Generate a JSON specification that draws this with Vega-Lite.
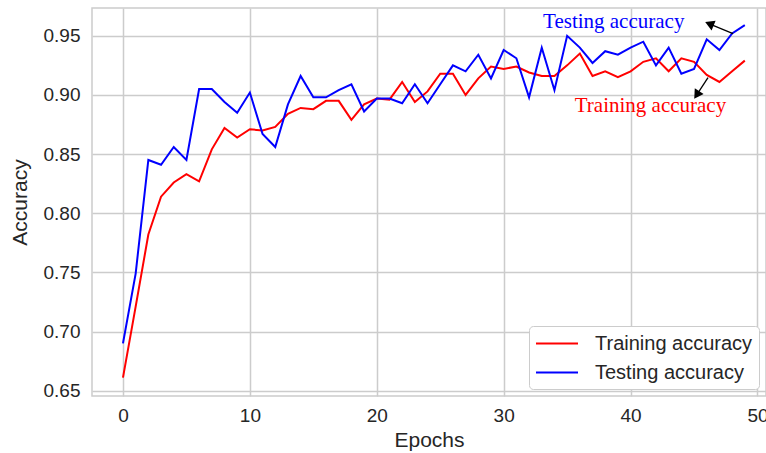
{
  "$schema": "https://vega.github.io/schema/vega-lite/v6.json",
  "width": 674,
  "height": 388,
  "autosize": {"type": "none"},
  "padding": {"left": 92, "top": 8, "right": 0, "bottom": 57},
  "background": "white",
  "config": {
    "view": {"stroke": "#cccccc", "strokeWidth": 1.5},
    "font": "Liberation Sans",
    "axis": {
      "domain": false,
      "ticks": false,
      "grid": true,
      "gridColor": "#cccccc",
      "gridWidth": 1.5,
      "labelFont": "Liberation Sans",
      "labelFontSize": 19,
      "labelColor": "#262626",
      "titleFont": "Liberation Sans",
      "titleFontSize": 21,
      "titleFontWeight": "normal",
      "titleColor": "#262626"
    },
    "legend": {
      "orient": "bottom-right",
      "offset": 7,
      "strokeColor": "#cccccc",
      "fillColor": "white",
      "cornerRadius": 4,
      "padding": 6,
      "labelFont": "Liberation Sans",
      "labelFontSize": 20,
      "labelColor": "#262626",
      "symbolType": "M-1,0H3",
      "symbolSize": 441,
      "symbolStrokeWidth": 2,
      "labelOffset": 37,
      "rowPadding": 7
    }
  },
  "datasets": {
    "acc": [
      {"epoch": 0, "Training accuracy": 0.661, "Testing accuracy": 0.690},
      {"epoch": 1, "Training accuracy": 0.721, "Testing accuracy": 0.749},
      {"epoch": 2, "Training accuracy": 0.782, "Testing accuracy": 0.845},
      {"epoch": 3, "Training accuracy": 0.814, "Testing accuracy": 0.841},
      {"epoch": 4, "Training accuracy": 0.826, "Testing accuracy": 0.856},
      {"epoch": 5, "Training accuracy": 0.833, "Testing accuracy": 0.845},
      {"epoch": 6, "Training accuracy": 0.827, "Testing accuracy": 0.905},
      {"epoch": 7, "Training accuracy": 0.854, "Testing accuracy": 0.905},
      {"epoch": 8, "Training accuracy": 0.872, "Testing accuracy": 0.894},
      {"epoch": 9, "Training accuracy": 0.864, "Testing accuracy": 0.885},
      {"epoch": 10, "Training accuracy": 0.871, "Testing accuracy": 0.902},
      {"epoch": 11, "Training accuracy": 0.870, "Testing accuracy": 0.867},
      {"epoch": 12, "Training accuracy": 0.873, "Testing accuracy": 0.856},
      {"epoch": 13, "Training accuracy": 0.884, "Testing accuracy": 0.892},
      {"epoch": 14, "Training accuracy": 0.889, "Testing accuracy": 0.916},
      {"epoch": 15, "Training accuracy": 0.888, "Testing accuracy": 0.898},
      {"epoch": 16, "Training accuracy": 0.895, "Testing accuracy": 0.898},
      {"epoch": 17, "Training accuracy": 0.895, "Testing accuracy": 0.904},
      {"epoch": 18, "Training accuracy": 0.879, "Testing accuracy": 0.909},
      {"epoch": 19, "Training accuracy": 0.892, "Testing accuracy": 0.886},
      {"epoch": 20, "Training accuracy": 0.897, "Testing accuracy": 0.897},
      {"epoch": 21, "Training accuracy": 0.896, "Testing accuracy": 0.897},
      {"epoch": 22, "Training accuracy": 0.911, "Testing accuracy": 0.893},
      {"epoch": 23, "Training accuracy": 0.894, "Testing accuracy": 0.909},
      {"epoch": 24, "Training accuracy": 0.903, "Testing accuracy": 0.893},
      {"epoch": 25, "Training accuracy": 0.918, "Testing accuracy": 0.909},
      {"epoch": 26, "Training accuracy": 0.918, "Testing accuracy": 0.925},
      {"epoch": 27, "Training accuracy": 0.900, "Testing accuracy": 0.920},
      {"epoch": 28, "Training accuracy": 0.914, "Testing accuracy": 0.934},
      {"epoch": 29, "Training accuracy": 0.924, "Testing accuracy": 0.914},
      {"epoch": 30, "Training accuracy": 0.922, "Testing accuracy": 0.938},
      {"epoch": 31, "Training accuracy": 0.924, "Testing accuracy": 0.931},
      {"epoch": 32, "Training accuracy": 0.919, "Testing accuracy": 0.898},
      {"epoch": 33, "Training accuracy": 0.916, "Testing accuracy": 0.940},
      {"epoch": 34, "Training accuracy": 0.916, "Testing accuracy": 0.904},
      {"epoch": 35, "Training accuracy": 0.925, "Testing accuracy": 0.950},
      {"epoch": 36, "Training accuracy": 0.935, "Testing accuracy": 0.940},
      {"epoch": 37, "Training accuracy": 0.916, "Testing accuracy": 0.927},
      {"epoch": 38, "Training accuracy": 0.920, "Testing accuracy": 0.937},
      {"epoch": 39, "Training accuracy": 0.915, "Testing accuracy": 0.934},
      {"epoch": 40, "Training accuracy": 0.920, "Testing accuracy": 0.940},
      {"epoch": 41, "Training accuracy": 0.928, "Testing accuracy": 0.945},
      {"epoch": 42, "Training accuracy": 0.931, "Testing accuracy": 0.925},
      {"epoch": 43, "Training accuracy": 0.920, "Testing accuracy": 0.940},
      {"epoch": 44, "Training accuracy": 0.931, "Testing accuracy": 0.918},
      {"epoch": 45, "Training accuracy": 0.928, "Testing accuracy": 0.922},
      {"epoch": 46, "Training accuracy": 0.917, "Testing accuracy": 0.947},
      {"epoch": 47, "Training accuracy": 0.911, "Testing accuracy": 0.938},
      {"epoch": 48, "Training accuracy": 0.920, "Testing accuracy": 0.952},
      {"epoch": 49, "Training accuracy": 0.929, "Testing accuracy": 0.959}
    ],
    "labels": [
      {"epoch": 33.1, "acc": 0.9569, "label": "Testing accuracy", "series": "Testing accuracy"},
      {"epoch": 35.6, "acc": 0.8856, "label": "Training accuracy", "series": "Training accuracy"}
    ],
    "arrows": [
      {"epoch": 48.07, "acc": 0.9519, "epoch2": 46.21, "acc2": 0.9601, "which": "test"},
      {"epoch": 46.1, "acc": 0.9147, "epoch2": 45.21, "acc2": 0.9001, "which": "train"}
    ]
  },
  "layer": [
    {
      "data": {"name": "acc"},
      "transform": [
        {"fold": ["Training accuracy", "Testing accuracy"], "as": ["series", "accuracy"]},
        {"filter": "datum.series === 'Training accuracy'"}
      ],
      "mark": {"type": "line", "strokeWidth": 2, "clip": true},
      "encoding": {
        "x": {
          "field": "epoch", "type": "quantitative",
          "scale": {"domain": [-2.44, 50.67], "nice": false, "zero": false},
          "axis": {"title": "Epochs", "values": [0, 10, 20, 30, 40, 50], "labelPadding": 10, "titlePadding": 4}
        },
        "y": {
          "field": "accuracy", "type": "quantitative",
          "scale": {"domain": [0.6455, 0.9735], "nice": false, "zero": false},
          "axis": {"title": "Accuracy", "values": [0.65, 0.7, 0.75, 0.8, 0.85, 0.9, 0.95], "format": ".2f", "labelPadding": 12, "titlePadding": 13}
        },
        "color": {
          "field": "series", "type": "nominal",
          "scale": {"domain": ["Training accuracy", "Testing accuracy"], "range": ["#ff0000", "#0000ff"]},
          "legend": {"title": null}
        }
      }
    },
    {
      "data": {"name": "acc"},
      "transform": [
        {"fold": ["Training accuracy", "Testing accuracy"], "as": ["series", "accuracy"]},
        {"filter": "datum.series === 'Testing accuracy'"}
      ],
      "mark": {"type": "line", "strokeWidth": 2, "clip": true},
      "encoding": {
        "x": {"field": "epoch", "type": "quantitative"},
        "y": {"field": "accuracy", "type": "quantitative"},
        "color": {"field": "series", "type": "nominal"}
      }
    },
    {
      "data": {"name": "labels"},
      "mark": {"type": "text", "font": "Liberation Serif", "fontSize": 21, "align": "left", "baseline": "alphabetic"},
      "encoding": {
        "x": {"field": "epoch", "type": "quantitative"},
        "y": {"field": "acc", "type": "quantitative"},
        "text": {"field": "label"},
        "color": {"field": "series", "type": "nominal", "legend": null}
      }
    },
    {
      "data": {"name": "arrows"},
      "mark": {"type": "rule", "color": "black", "strokeWidth": 1.3},
      "encoding": {
        "x": {"field": "epoch", "type": "quantitative"},
        "y": {"field": "acc", "type": "quantitative"},
        "x2": {"field": "epoch2"},
        "y2": {"field": "acc2"}
      }
    },
    {
      "data": {"name": "arrows"},
      "transform": [{"filter": "datum.which === 'test'"}],
      "mark": {"type": "point", "shape": "triangle-up", "filled": true, "color": "black", "opacity": 1, "size": 110, "angle": 292.5},
      "encoding": {
        "x": {"field": "epoch2", "type": "quantitative"},
        "y": {"field": "acc2", "type": "quantitative"}
      }
    },
    {
      "data": {"name": "arrows"},
      "transform": [{"filter": "datum.which === 'train'"}],
      "mark": {"type": "point", "shape": "triangle-up", "filled": true, "color": "black", "opacity": 1, "size": 110, "angle": 213.2},
      "encoding": {
        "x": {"field": "epoch2", "type": "quantitative"},
        "y": {"field": "acc2", "type": "quantitative"}
      }
    }
  ]
}
